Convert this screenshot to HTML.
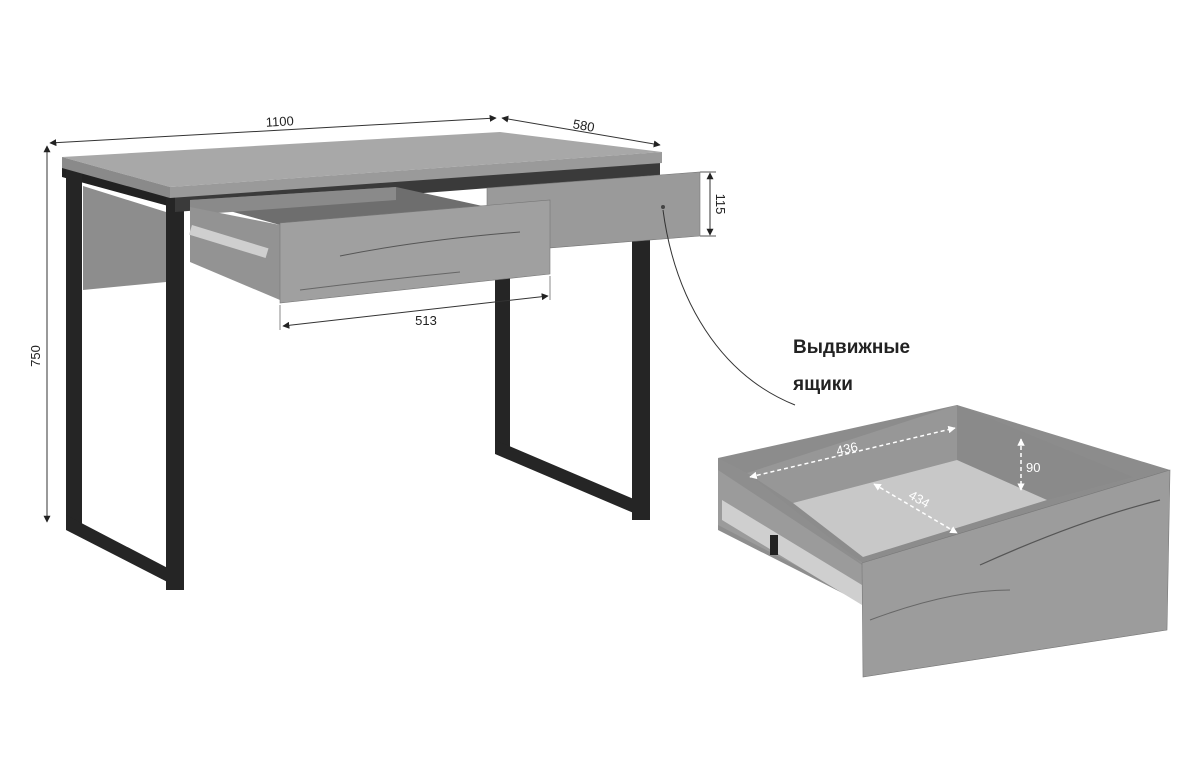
<!DOCTYPE html>
<html><head><meta charset="utf-8"><style>
html,body{margin:0;padding:0;background:#fff;}
svg{display:block;font-family:"Liberation Sans",sans-serif;}
</style></head><body>
<svg width="1194" height="762" viewBox="0 0 1194 762" xmlns="http://www.w3.org/2000/svg">
<defs>
<marker id="ar" viewBox="0 0 10 10" refX="9" refY="5" markerWidth="7" markerHeight="7" orient="auto-start-reverse"><path d="M0,0 L10,5 L0,10 z" fill="#222"/></marker>
<marker id="aw" viewBox="0 0 10 10" refX="9" refY="5" markerWidth="5" markerHeight="5" orient="auto-start-reverse"><path d="M0,0 L10,5 L0,10 z" fill="#fff"/></marker>
</defs>

<line x1="50" y1="143" x2="496" y2="118" stroke="#333" stroke-width="1" marker-start="url(#ar)" marker-end="url(#ar)"/>
<text x="280" y="126" font-size="13" text-anchor="middle" fill="#222" transform="rotate(-3 280 126)">1100</text>
<line x1="502" y1="118" x2="660" y2="145" stroke="#333" stroke-width="1" marker-start="url(#ar)" marker-end="url(#ar)"/>
<text x="583" y="130" font-size="13" text-anchor="middle" fill="#222" transform="rotate(10 583 130)">580</text>
<line x1="47" y1="146" x2="47" y2="522" stroke="#333" stroke-width="1" marker-start="url(#ar)" marker-end="url(#ar)"/>
<text x="40" y="356" font-size="13" text-anchor="middle" fill="#222" transform="rotate(-90 40 356)">750</text>
<line x1="710" y1="173" x2="710" y2="235" stroke="#333" stroke-width="1" marker-start="url(#ar)" marker-end="url(#ar)"/>
<line x1="700" y1="172" x2="716" y2="172" stroke="#555"/>
<line x1="700" y1="236" x2="716" y2="236" stroke="#555"/>
<text x="716" y="204" font-size="13" text-anchor="middle" fill="#222" transform="rotate(90 716 204)">115</text>

<polygon points="62,165 183,198 183,210 62,177" fill="#222"/>
<polygon points="83,186 166,212 166,282 83,290" fill="#8d8d8d"/>
<rect x="66" y="170" width="16" height="355" fill="#252525"/>
<polygon points="66,515 183,576 183,590 66,530" fill="#252525"/>
<rect x="166" y="196" width="18" height="394" fill="#252525"/>
<rect x="495" y="270" width="15" height="182" fill="#252525"/>
<polygon points="495,440 650,506 650,520 495,454" fill="#252525"/>
<rect x="632" y="235" width="18" height="285" fill="#252525"/>

<polygon points="175,195 660,160 660,175 175,212" fill="#3a3a3a"/>
<polygon points="62,157 500,132 662,152 170,187" fill="#a8a8a8"/>
<polygon points="62,157 170,187 170,198 62,168" fill="#8a8a8a"/>
<polygon points="170,187 662,152 662,163 170,198" fill="#9a9a9a"/>

<polygon points="487,188 700,172 700,236 487,253" fill="#9a9a9a" stroke="#777" stroke-width="0.6"/>
<circle cx="663" cy="207" r="2" fill="#444"/>

<polygon points="190,200 396,187 487,207 280,225" fill="#6e6e6e"/>
<polygon points="190,200 396,187 396,200 190,215" fill="#8a8a8a"/>
<polygon points="190,207 280,225 280,300 190,262" fill="#939393"/>
<rect x="192" y="225" width="80" height="10" fill="#cfcfcf" transform="rotate(17 192 225)"/>
<polygon points="280,223 550,200 550,274 280,303" fill="#a0a0a0" stroke="#777" stroke-width="0.6"/>
<path d="M340,256 Q420,240 520,232" stroke="#555" fill="none" stroke-width="1"/>
<path d="M300,290 Q380,280 460,272" stroke="#666" fill="none" stroke-width="1"/>

<line x1="280" y1="305" x2="280" y2="330" stroke="#888"/>
<line x1="550" y1="276" x2="550" y2="300" stroke="#888"/>
<line x1="283" y1="326" x2="548" y2="296" stroke="#333" stroke-width="1" marker-start="url(#ar)" marker-end="url(#ar)"/>
<text x="426" y="325" font-size="13" text-anchor="middle" fill="#222">513</text>

<path d="M663,210 C675,300 720,375 795,405" stroke="#333" fill="none" stroke-width="1"/>
<text x="793" y="353" font-size="19" font-weight="bold" fill="#222">Выдвижные</text>
<text x="793" y="390" font-size="19" font-weight="bold" fill="#222">ящики</text>

<polygon points="718,458 957,405 1170,470 862,563" fill="#8c8c8c"/>
<polygon points="747,473 957,405 957,460 793,503" fill="#979797"/>
<polygon points="957,405 1133,477 1047,500 957,460" fill="#8a8a8a"/>
<polygon points="793,503 957,460 1047,500 863,557" fill="#c8c8c8"/>
<polygon points="718,458 747,473 862,563 862,603 718,530" fill="#8e8e8e"/>
<polygon points="718,470 862,565 862,600 718,525" fill="#9b9b9b"/>
<polygon points="722,500 862,585 862,605 722,520" fill="#cfcfcf"/>
<rect x="770" y="535" width="8" height="20" fill="#222"/>
<polygon points="862,563 1170,470 1167,630 863,677" fill="#9c9c9c" stroke="#777" stroke-width="0.6"/>
<path d="M980,565 Q1080,520 1160,500" stroke="#555" fill="none" stroke-width="1.2"/>
<path d="M870,620 Q950,590 1010,590" stroke="#666" fill="none" stroke-width="1"/>

<line x1="750" y1="477" x2="955" y2="428" stroke="#fff" stroke-width="1.5" stroke-dasharray="4,3" marker-start="url(#aw)" marker-end="url(#aw)"/>
<text x="848" y="453" font-size="13" fill="#fff" text-anchor="middle" transform="rotate(-13 848 453)">436</text>
<line x1="1021" y1="439" x2="1021" y2="490" stroke="#fff" stroke-width="1.5" stroke-dasharray="4,3" marker-start="url(#aw)" marker-end="url(#aw)"/>
<text x="1026" y="472" font-size="13" fill="#fff">90</text>
<line x1="874" y1="484" x2="957" y2="533" stroke="#fff" stroke-width="1.5" stroke-dasharray="4,3" marker-start="url(#aw)" marker-end="url(#aw)"/>
<text x="917" y="503" font-size="13" fill="#fff" text-anchor="middle" transform="rotate(30 917 503)">434</text>
</svg>
</body></html>
